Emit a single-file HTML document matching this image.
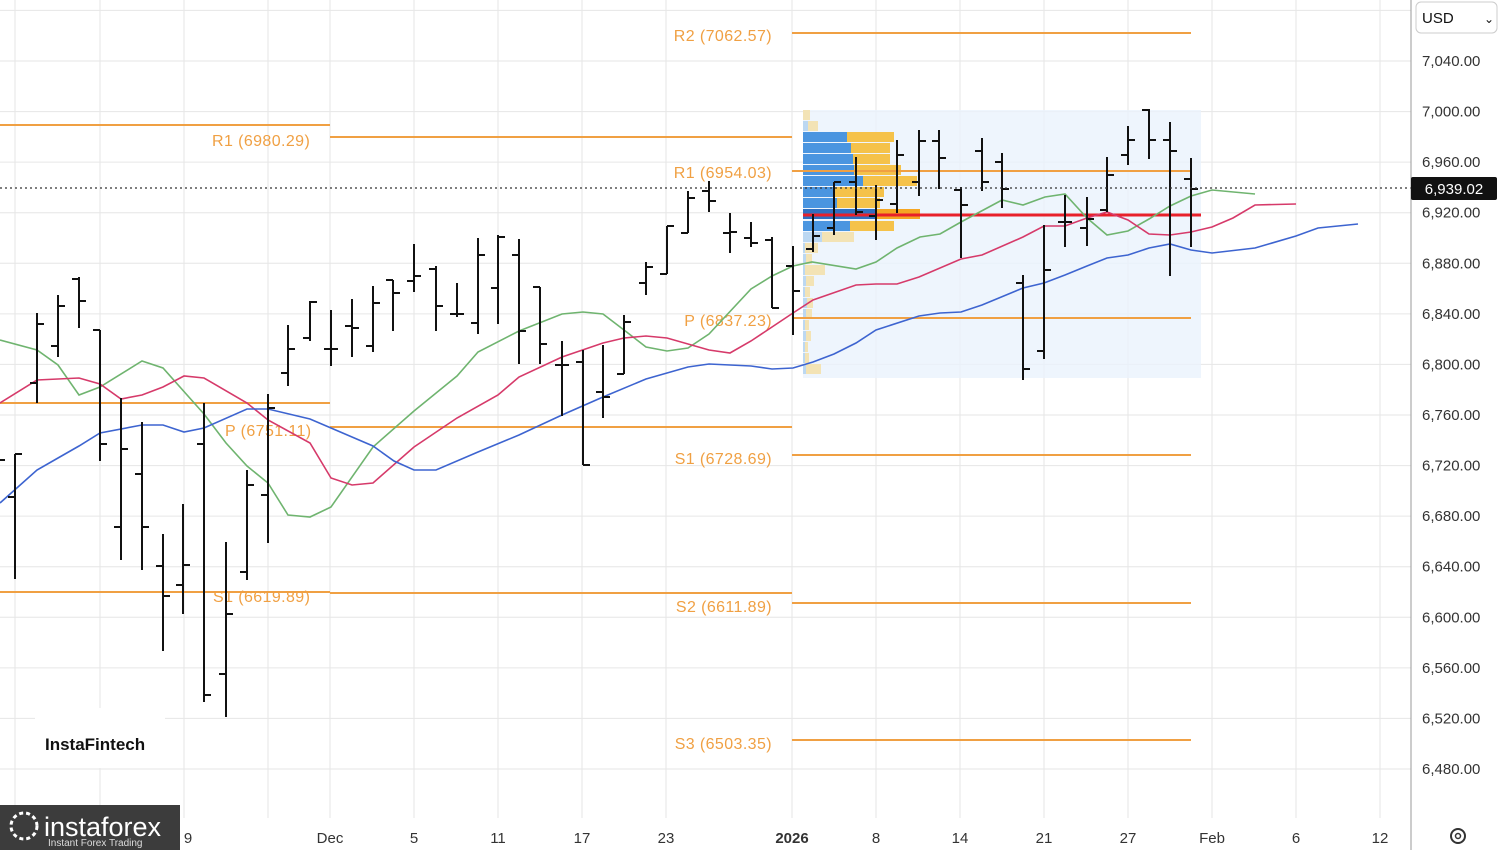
<!DOCTYPE html>
<html><head><meta charset="utf-8"><style>
html,body{margin:0;padding:0;background:#fff;width:1500px;height:850px;overflow:hidden}
svg{display:block;font-family:"Liberation Sans",Arial,sans-serif}
</style></head><body>
<svg id="c" width="1500" height="850" viewBox="0 0 1500 850" xmlns="http://www.w3.org/2000/svg">
<rect width="1500" height="850" fill="#fff"/>
<g id="grid" stroke="#e6e6e6" stroke-width="1"></g>
<rect x="803" y="110" width="398" height="268" fill="#eaf3fc" opacity="0.8"/>
<g id="vp"></g>
<g id="piv" stroke="#f0a043" stroke-width="2"></g>
<g fill="#f0a043" font-size="16" letter-spacing="0.4">
<text x="212" y="146">R1 (6980.29)</text>
<text x="225" y="436">P (6751.11)</text>
<text x="213" y="602">S1 (6619.89)</text>
<text x="772" y="41" text-anchor="end">R2 (7062.57)</text>
<text x="772" y="178" text-anchor="end">R1 (6954.03)</text>
<text x="772" y="326" text-anchor="end">P (6837.23)</text>
<text x="772" y="464" text-anchor="end">S1 (6728.69)</text>
<text x="772" y="612" text-anchor="end">S2 (6611.89)</text>
<text x="772" y="749" text-anchor="end">S3 (6503.35)</text>
</g>
<line x1="803" y1="215" x2="1201" y2="215" stroke="#e8202a" stroke-width="3"/>
<g id="ma" fill="none" stroke-width="1.6"></g>
<g id="bars" stroke="#111" stroke-width="2"></g>
<line x1="0" y1="188" x2="1411" y2="188" stroke="#333" stroke-width="1.2" stroke-dasharray="2,3"/>
<rect x="1411" y="0" width="89" height="850" fill="#fff"/>
<rect x="0" y="818" width="1411" height="32" fill="#fff"/>
<line x1="1411" y1="0" x2="1411" y2="850" stroke="#999"/>
<g id="ylab" font-size="15" fill="#333"></g>
<g id="xlab" font-size="15" fill="#333" text-anchor="middle"></g>
<rect x="1411" y="177" width="86" height="23" rx="2" fill="#111"/>
<text x="1454" y="194" font-size="15" fill="#fff" text-anchor="middle">6,939.02</text>
<rect x="1416" y="2" width="81" height="31" rx="5" fill="#fff" stroke="#ccc"/>
<text x="1422" y="23" font-size="15" fill="#111">USD</text>
<text x="1484" y="23" font-size="12" fill="#111">⌄</text>
<circle cx="1458" cy="836" r="7" fill="none" stroke="#333" stroke-width="2"/>
<circle cx="1458" cy="836" r="2.5" fill="none" stroke="#333" stroke-width="1.5"/>
<rect x="35" y="708" width="130" height="60" fill="#fff"/>
<text x="45" y="750" font-size="17" font-weight="bold" fill="#111">InstaFintech</text>
<rect x="0" y="805" width="180" height="45" fill="#3c3c3c"/>
<circle cx="24" cy="826" r="13" fill="none" stroke="#fff" stroke-width="3" stroke-dasharray="4,3"/>
<text x="44" y="836" font-size="27" fill="#fff">instaforex</text>
<text x="48" y="846" font-size="10" fill="#ddd">Instant Forex Trading</text>
<text x="188" y="843" font-size="15" fill="#333" text-anchor="middle">9</text>
</svg>
<script>
const NS="http://www.w3.org/2000/svg";
function el(p,t,a){const e=document.createElementNS(NS,t);for(const k in a)e.setAttribute(k,a[k]);document.getElementById(p).appendChild(e);return e;}
const Y=v=>61+(7040-v)*1.26428;
for(let v=6440;v<=7080;v+=40){const y=Y(v);el('grid','line',{x1:0,y1:y,x2:1411,y2:y});}
[15,100,184,268,330,414,498,582,666,792,876,960,1044,1128,1212,1296,1380].forEach(x=>el('grid','line',{x1:x,y1:0,x2:x,y2:818}));
for(let v=6480;v<=7040;v+=40){const t=el('ylab','text',{x:1422,y:Y(v)+5});t.textContent=v.toLocaleString('en-US',{minimumFractionDigits:2});}
[["Dec",330],["5",414],["11",498],["17",582],["23",666],["2026",792],["8",876],["14",960],["21",1044],["27",1128],["Feb",1212],["6",1296],["12",1380]].forEach(([s,x])=>{const t=el('xlab','text',{x:x,y:843});t.textContent=s;if(s=="2026")t.setAttribute('font-weight','bold');});
[[0,330,125],[0,330,403],[0,330,592],[330,792,137],[330,792,427],[330,792,593],[792,1191,33],[792,1191,171],[792,1191,318],[792,1191,455],[792,1191,603],[792,1191,740]].forEach(([a,b,y])=>el('piv','line',{x1:a,y1:y,x2:b,y2:y}));
const vp=[[110,0,7,0],[121,5,10,0],[132,44,47,1],[143,48,39,1],[154,50,37,1],[165,51,47,1],[176,60,54,1],[187,30,51,1],[198,34,43,1],[209,74,43,2],[221,47,44,1],[232,19,32,0],[243,2,13,0],[254,3,6,0],[265,2,20,0],[276,3,8,0],[287,2,5,0],[298,4,6,0],[309,3,6,0],[320,2,4,0],[331,3,5,0],[342,2,3,0],[353,2,4,0],[364,3,15,0]];
vp.forEach(([y,b,w,s])=>{const bc=s==2?'#2f6fc0':s==1?'#4a95e0':'#bcd8f2',yc=s==2?'#f5a623':s==1?'#f5c24a':'#f3e3b5';
el('vp','rect',{x:803,y:y,width:b,height:10,fill:bc});el('vp','rect',{x:803+b,y:y,width:w,height:10,fill:yc});});
const G=[[0,340],[37,350],[58,365],[79,395],[100,387],[142,361],[163,368],[204,414],[226,443],[247,466],[268,483],[288,515],[310,517],[331,507],[373,447],[414,411],[457,376],[478,352],[519,331],[562,314],[583,312],[603,314],[624,330],[646,347],[667,351],[688,348],[709,334],[751,289],[772,276],[793,266],[812,262],[856,269],[876,262],[897,248],[920,237],[940,234],[961,222],[1002,200],[1023,205],[1045,197],[1065,194],[1087,218],[1107,235],[1128,231],[1149,219],[1170,206],[1191,196],[1212,190],[1255,194]];
const R=[[0,403],[37,380],[79,378],[100,384],[121,399],[142,395],[163,387],[184,376],[204,378],[247,403],[268,420],[310,443],[331,478],[352,485],[373,483],[414,447],[457,418],[498,395],[519,377],[562,357],[603,343],[624,338],[646,336],[667,338],[709,350],[730,353],[751,341],[793,313],[813,300],[856,285],[876,284],[897,284],[919,277],[961,259],[982,255],[1023,237],[1044,226],[1065,226],[1087,218],[1107,212],[1128,220],[1149,234],[1170,235],[1191,232],[1212,227],[1233,218],[1255,205],[1296,204]];
const B=[[0,503],[37,470],[58,458],[79,446],[100,433],[142,425],[163,425],[184,432],[204,428],[247,409],[268,409],[310,419],[331,428],[352,437],[373,446],[394,461],[414,470],[436,470],[478,452],[519,435],[562,415],[603,397],[646,379],[688,367],[709,364],[751,366],[772,369],[793,368],[813,362],[834,354],[856,343],[876,330],[919,316],[940,313],[961,312],[982,305],[1023,288],[1044,283],[1065,275],[1087,266],[1107,258],[1128,255],[1149,248],[1170,244],[1191,250],[1212,253],[1255,248],[1296,236],[1318,228],[1358,224]];
[[G,'#6fb46f'],[R,'#d63a6a'],[B,'#3d64d0']].forEach(([p,c])=>el('ma','polyline',{points:p.map(q=>q.join(',')).join(' '),stroke:c}));
const bars=[[-2,440,500,467,460],[15,454,579,497,454],[37,313,403,383,324],[58,295,357,346,306],[79,277,328,279,301],[100,330,461,330,444],[121,398,560,527,449],[142,422,570,474,527],[163,534,651,566,596],[183,504,614,585,565],[204,403,702,444,695],[226,542,717,674,614],[247,470,580,572,485],[268,394,543,495,408],[288,325,386,373,349],[310,301,341,338,302],[331,310,366,349,349],[352,299,357,326,328],[373,286,352,346,303],[393,280,331,280,293],[414,244,292,281,276],[436,266,331,269,306],[457,283,317,314,314],[478,238,334,323,255],[498,235,324,288,237],[519,239,364,255,331],[540,287,364,287,344],[562,341,416,365,365],[583,350,465,362,465],[603,345,418,392,397],[624,315,374,374,322],[646,262,295,283,267],[667,226,274,274,226],[688,191,233,233,198],[709,181,212,191,201],[730,213,253,233,232],[751,222,247,238,243],[772,237,308,240,308],[793,246,335,266,291],[813,214,252,249,236],[834,182,235,228,182],[856,157,215,182,212],[876,185,240,216,200],[897,140,213,204,155],[919,130,196,182,141],[939,130,189,141,158],[961,187,258,190,205],[982,138,191,151,182],[1002,153,208,162,189],[1023,275,380,283,369],[1044,225,359,351,270],[1065,195,247,222,222],[1087,197,246,228,219],[1107,157,212,210,175],[1128,126,165,155,140],[1149,109,159,110,140],[1170,122,276,140,151],[1191,158,247,179,189]];
bars.forEach(([x,h,l,o,c])=>{el('bars','line',{x1:x,y1:h,x2:x,y2:l});el('bars','line',{x1:x-7,y1:o,x2:x,y2:o});el('bars','line',{x1:x,y1:c,x2:x+7,y2:c});});
</script>
</body></html>
